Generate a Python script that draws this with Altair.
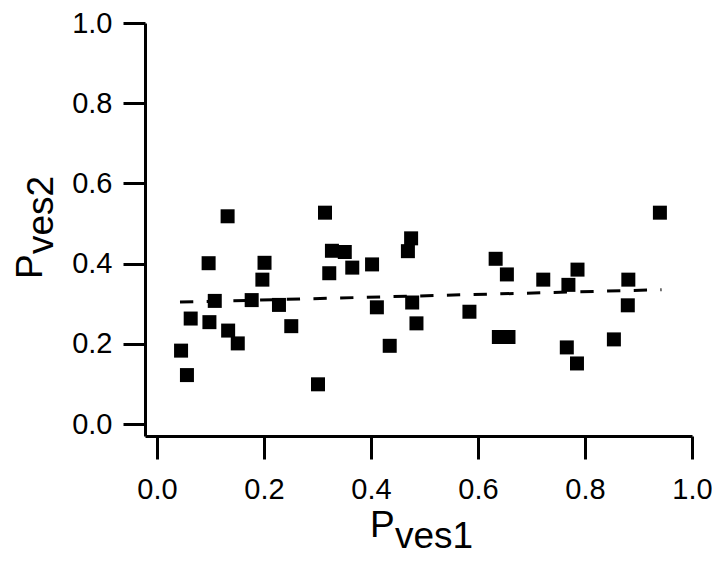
import altair as alt
import pandas as pd

# Data
pves1 = [0.132, 0.0965, 0.201, 0.197, 0.108, 0.177, 0.228, 0.063, 0.098, 0.133,
         0.151, 0.251, 0.045, 0.056, 0.301,
         0.314, 0.327, 0.351, 0.322, 0.365, 0.402, 0.475, 0.469, 0.411, 0.477,
         0.485, 0.435, 0.584,
         0.633, 0.654, 0.639, 0.657, 0.722, 0.786, 0.769, 0.766, 0.785, 0.881,
         0.880, 0.854, 0.940]
pves2 = [0.518, 0.401, 0.402, 0.360, 0.307, 0.309, 0.297, 0.263, 0.254, 0.233,
         0.201, 0.244, 0.183, 0.122, 0.099,
         0.527, 0.432, 0.429, 0.376, 0.390, 0.398, 0.463, 0.431, 0.291, 0.303,
         0.251, 0.195, 0.280,
         0.412, 0.373, 0.217, 0.217, 0.360, 0.385, 0.347, 0.191, 0.151, 0.360,
         0.296, 0.211, 0.527]

fit_x = [0.043, 0.943]
fit_y = [0.304, 0.335]

tick_values = [0.0, 0.2, 0.4, 0.6, 0.8, 1.0]

FONT = "Liberation Sans"

pts = pd.DataFrame({"pves1": pves1, "pves2": pves2})
fit = pd.DataFrame({"pves1": fit_x, "pves2": fit_y})

xscale = alt.Scale(domain=[-0.0224, 1.0], nice=False, zero=False)
yscale = alt.Scale(domain=[-0.0299, 1.0], nice=False, zero=False)

common = dict(values=tick_values, format=".1f", title="", grid=False,
              labelFlush=False, labelOverlap=False,
              labelFont=FONT, labelFontSize=29, labelColor="black",
              domainColor="black", domainWidth=3, tickColor="black", tickWidth=3)
xaxis = alt.Axis(tickSize=23, labelPadding=16, **common)
yaxis = alt.Axis(tickSize=22, labelPadding=11, **common)

points = alt.Chart(pts).mark_square(size=196, color="black", opacity=1).encode(
    x=alt.X("pves1:Q", scale=xscale, axis=xaxis),
    y=alt.Y("pves2:Q", scale=yscale, axis=yaxis),
)

line = alt.Chart(fit).mark_line(color="black", strokeWidth=3, strokeDash=[13.3, 13.4]).encode(
    x=alt.X("pves1:Q", scale=xscale, axis=xaxis),
    y=alt.Y("pves2:Q", scale=yscale, axis=yaxis),
)

def label(text, x, y, angle=0):
    return alt.Chart(pd.DataFrame({"t": [text]})).mark_text(
        font=FONT, fontSize=37, color="black", align="left",
        baseline="alphabetic", angle=angle
    ).encode(text="t:N", x=alt.value(x), y=alt.value(y))

xt1 = label("P", 225, 514)
xt2 = label("ves1", 250, 525)
yt1 = label("P", -103, 256, 270)
yt2 = label("ves2", -92, 231, 270)

chart = alt.layer(points, line, xt1, xt2, yt1, yt2).properties(
    width=547, height=413,
    padding={"left": 137, "top": 15, "right": 20, "bottom": 120},
    autosize=alt.AutoSizeParams(type="none"),
    background="white",
).configure_view(strokeWidth=0, stroke="transparent")

chart.save("out.html", embed_options={"renderer": "svg", "actions": False})
